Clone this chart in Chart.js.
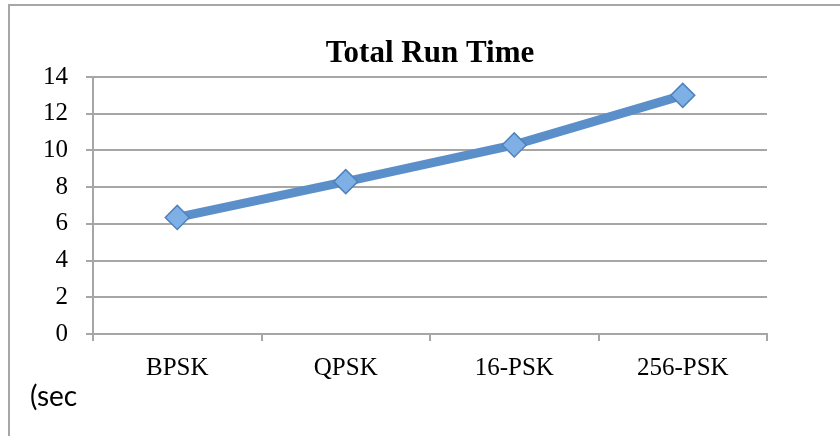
<!DOCTYPE html>
<html>
<head>
<meta charset="utf-8">
<script src="https://cdn.jsdelivr.net/npm/chart.js@4"></script>
<style>
  html, body { margin: 0; padding: 0; background: #fff; }
  #wrap { position: relative; width: 840px; height: 436px; overflow: hidden; }
  #frame {
    position: absolute; left: 8px; top: 4px; width: 840px; height: 440px;
    border-left: 2px solid #a6a6a6; border-top: 2px solid #a6a6a6;
  }
  #chart { position: absolute; left: 0; top: 0; }
</style>
</head>
<body>
<div id="wrap">
  <div id="frame"></div>
  <canvas id="chart" width="840" height="436"></canvas>
</div>
<script>
// chart data
const chartTitle = "Total Run Time";
const unitLabel = "(sec";
const categories = ["BPSK", "QPSK", "16-PSK", "256-PSK"];
const runTimes = [6.35, 8.3, 10.3, 13.0];
const yTicks = [0, 2, 4, 6, 8, 10, 12, 14];

const serif = "'Liberation Serif', 'DejaVu Serif', serif";

// title and unit text drawn relative to the plot area
const extraText = {
  id: "extraText",
  afterDraw(chart) {
    const { ctx, chartArea } = chart;
    ctx.save();
    ctx.fillStyle = "#000";
    ctx.textAlign = "center";
    ctx.textBaseline = "alphabetic";
    ctx.font = "bold 31px " + serif;
    ctx.fillText(chartTitle, (chartArea.left + chartArea.right) / 2, 62);
    ctx.textAlign = "left";
    ctx.font = "28px Lato, 'Open Sans', sans-serif";
    ctx.fillText(unitLabel, 30, 406);
    ctx.restore();
  },
};

const ctx = document.getElementById("chart").getContext("2d");
new Chart(ctx, {
  type: "line",
  data: {
    labels: categories,
    datasets: [
      {
        data: runTimes,
        borderColor: "#5a8fc9",
        borderWidth: 9,
        tension: 0,
        pointStyle: "rectRot",
        pointRadius: 12,
        pointBackgroundColor: "#7eb0e6",
        pointBorderColor: "#4f82bf",
        pointBorderWidth: 1.5,
      },
    ],
  },
  options: {
    responsive: false,
    animation: false,
    layout: { padding: { left: 0, right: 73, top: 77, bottom: 0 } },
    plugins: {
      legend: { display: false },
      title: { display: false },
      tooltip: { enabled: false },
    },
    scales: {
      x: {
        offset: true,
        grid: {
          offset: true,
          drawOnChartArea: false,
          drawTicks: true,
          tickLength: 7,
          color: "#a6a6a6",
          lineWidth: 2,
        },
        border: { color: "#a6a6a6", width: 2 },
        ticks: {
          color: "#000",
          padding: 12,
          font: { family: serif, size: 25 },
        },
        afterFit(scale) {
          scale.height = 436 - 334;
        },
      },
      y: {
        min: 0,
        max: 14,
        afterBuildTicks(scale) {
          scale.ticks = yTicks.map((v) => ({ value: v }));
        },
        grid: {
          color: "#a6a6a6",
          lineWidth: 2,
          tickLength: 7,
        },
        border: { color: "#a6a6a6", width: 2 },
        ticks: {
          color: "#000",
          padding: 18,
          font: { family: serif, size: 25 },
        },
        afterFit(scale) {
          scale.width = 93;
        },
      },
    },
  },
  plugins: [extraText],
});
</script>
</body>
</html>
